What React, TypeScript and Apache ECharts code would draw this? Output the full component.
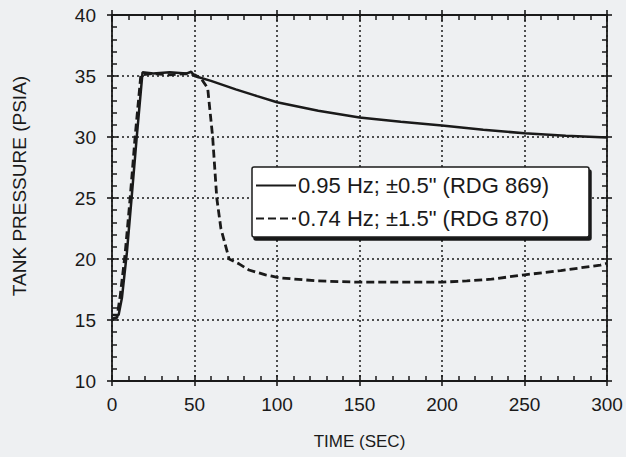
import React, { useEffect, useRef } from "react";
import * as echarts from "echarts";

const xTicks = [0, 50, 100, 150, 200, 250, 300];
const yTicks = [10, 15, 20, 25, 30, 35, 40];

const seriesNames = ['0.95 Hz; ±0.5" (RDG 869)', '0.74 Hz; ±1.5" (RDG 870)'];

const solidTime = [0, 4, 6, 9, 12, 15, 18.5, 25, 35, 45, 48, 50, 60, 75, 88, 100, 125, 150, 175, 200, 225, 250, 275, 300];
const solidPsia = [15.4, 15.4, 16.8, 20.5, 25.2, 30, 35.3, 35.2, 35.3, 35.2, 35.35, 35.0, 34.6, 33.9, 33.35, 32.85, 32.15, 31.6, 31.25, 30.95, 30.6, 30.3, 30.1, 29.95];

const dashTime = [0, 3, 5, 8, 11, 14, 17.5, 25, 35, 45, 50, 54, 58, 61, 63.5, 66, 71, 77, 83, 93, 102, 125, 150, 175, 200, 215, 230, 250, 272, 296, 300];
const dashPsia = [15.1, 15.2, 17, 20.5, 25, 30, 35.1, 35.2, 35.1, 35.2, 35.1, 34.8, 34.0, 30, 25, 22.5, 20, 19.6, 19.1, 18.7, 18.45, 18.2, 18.1, 18.1, 18.1, 18.2, 18.35, 18.7, 19.05, 19.5, 19.65];

const FONT = "Liberation Sans, Arial, Helvetica, sans-serif";
const INK = "#1a1a1a";

export default function App() {
  const ref = useRef<HTMLDivElement>(null);
  useEffect(() => {
    if (!ref.current) return;
    const chart = echarts.init(ref.current, undefined, { renderer: "svg" });
    const xMin = xTicks[0], xMax = xTicks[xTicks.length - 1], xInt = xTicks[1] - xTicks[0];
    const yMin = yTicks[0], yMax = yTicks[yTicks.length - 1], yInt = yTicks[1] - yTicks[0];

    const gridBox = { left: 112, right: 19, top: 15, bottom: 76, containLabel: false };

    const inner = (kind: "x" | "y", pos: string, gridIndex: number) => ({
      type: "value",
      gridIndex,
      position: pos,
      offset: 0,
      min: kind === "x" ? xMin : yMin,
      max: kind === "x" ? xMax : yMax,
      interval: kind === "x" ? xInt : yInt,
      axisLine: { show: true, onZero: false, lineStyle: { color: INK, width: 1.8 } },
      splitLine: { show: false },
      axisLabel: { show: false },
      axisTick: { show: true, inside: true, length: 6, lineStyle: { color: INK, width: 1.6 } },
      minorTick: { show: true, splitNumber: 5, length: 5, lineStyle: { color: INK, width: 1.5 } },
    });
    const outer = (kind: "x" | "y", pos: string, gridIndex: number) => ({
      ...inner(kind, pos, gridIndex),
      axisLine: { show: false, onZero: false },
      axisTick: { show: true, inside: false, length: 5, lineStyle: { color: INK, width: 1.6 } },
      minorTick: { show: false },
    });

    chart.setOption({
      animation: false,
      backgroundColor: "#eef0f2",
      grid: [gridBox, gridBox],
      xAxis: [
        {
          ...inner("x", "bottom", 0),
          name: "TIME (SEC)", nameLocation: "middle", nameGap: 52,
          nameTextStyle: { fontFamily: FONT, fontSize: 17, color: INK },
          axisLabel: { show: true, margin: 14, fontFamily: FONT, fontSize: 19, color: INK },
          splitLine: { show: true, lineStyle: { color: INK, width: 1.5, type: [2, 3] } },
        },
        inner("x", "top", 0),
        outer("x", "bottom", 1),
        outer("x", "top", 1),
      ],
      yAxis: [
        {
          ...inner("y", "left", 0),
          name: "TANK PRESSURE (PSIA)", nameLocation: "middle", nameGap: 83, nameRotate: 90,
          nameTextStyle: { fontFamily: FONT, fontSize: 19, color: INK, padding: [0, 0, 0, 24] },
          axisLabel: { show: true, margin: 16, fontFamily: FONT, fontSize: 19, color: INK },
          splitLine: { show: true, lineStyle: { color: INK, width: 1.5, type: [2, 3] } },
        },
        inner("y", "right", 0),
        outer("y", "left", 1),
        outer("y", "right", 1),
      ],
      legend: {
        show: true,
        orient: "vertical",
        left: 252, top: 167,
        data: seriesNames,
        itemWidth: 40, itemHeight: 14, itemGap: 10,
        padding: [7, 40, 7, 3],
        backgroundColor: "#ffffff",
        borderColor: INK, borderWidth: 1.5, borderRadius: 2,
        shadowColor: "rgba(0,0,0,0.9)", shadowBlur: 1, shadowOffsetX: 2, shadowOffsetY: 3,
        itemStyle: { opacity: 0, borderWidth: 0 },
        textStyle: { fontFamily: FONT, fontSize: 22, color: INK, lineHeight: 23, padding: [0, 0, 0, -3] },
      },
      series: [
        {
          name: seriesNames[0], type: "line", xAxisIndex: 0, yAxisIndex: 0,
          data: solidTime.map((t, i) => [t, solidPsia[i]]),
          symbol: "none", smooth: false,
          lineStyle: { color: INK, width: 2.5, type: "solid" },
          itemStyle: { color: INK },
        },
        {
          name: seriesNames[1], type: "line", xAxisIndex: 0, yAxisIndex: 0,
          data: dashTime.map((t, i) => [t, dashPsia[i]]),
          symbol: "none", smooth: false,
          lineStyle: { color: INK, width: 2.8, type: [8, 4] },
          itemStyle: { color: INK },
        },
      ],
    });
    return () => chart.dispose();
  }, []);
  return (
    <div
      ref={ref}
      style={{ position: "fixed", left: 0, top: 0, width: 626, height: 457 }}
    />
  );
}
